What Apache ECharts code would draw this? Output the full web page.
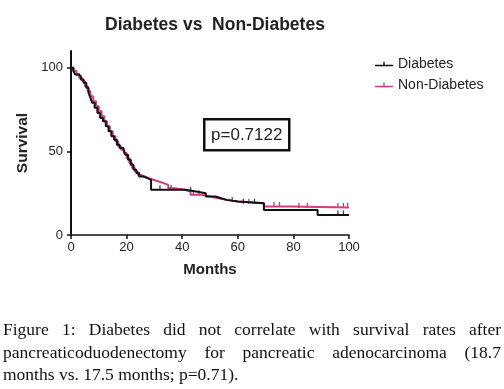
<!DOCTYPE html>
<html>
<head>
<meta charset="utf-8">
<script src="https://cdn.jsdelivr.net/npm/echarts@6/dist/echarts.min.js"></script>
<style>
    html, body { margin: 0; padding: 0; background: #fff; }
    #chart { width: 504px; height: 389px; }
    #caption {
        position: absolute; left: 3px; top: 318px; width: 498px;
        font-family: 'Liberation Serif', serif; font-size: 17.5px; line-height: 22.5px; color: #111;
    }
    #caption div { text-align: justify; text-align-last: justify; white-space: nowrap; }
    #caption div.last { text-align-last: left; }
</style>
</head>
<body>
<div id="chart"></div>
<div id="caption">
    <div>Figure 1: Diabetes did not correlate with survival rates after</div>
    <div>pancreaticoduodenectomy for pancreatic adenocarcinoma (18.7</div>
    <div class="last">months vs. 17.5 months; p=0.71).</div>
</div>
<script>
// Kaplan-Meier steps
var diabetesMonths = [0, 0.8, 1.5, 2.5, 3.5, 4.5, 5.5, 6.3, 7, 7.6, 8.5, 9.5, 10.5, 11.5, 12.5, 13.5, 14.5, 15.5, 16.5, 17.5, 18.8, 19.5, 20.5, 21.5, 22.5, 23.5, 24.5, 26, 27.5, 28.8, 41, 45, 48.5, 52, 54, 56, 60, 69.4, 88.7, 100];
var diabetesSurvival = [100, 98, 96, 95, 93, 91, 88, 85, 82, 79, 76, 73, 70, 68, 65, 62, 59, 57, 54, 52, 51, 48, 45, 42, 39, 37, 35, 34, 33, 27, 26, 25, 23, 22, 21, 20, 19, 15, 12, 12];

var nonDiabetesMonths = [0, 1, 2, 3, 4, 5, 6, 7, 8, 9, 10, 11, 12, 13, 14, 15, 16, 17, 18, 19, 20, 21, 22, 23, 24, 25, 26.5, 28, 29.7, 31.5, 33.3, 35, 37, 41, 43, 47, 50, 53, 56, 60, 69.4, 79, 100];
var nonDiabetesSurvival = [100, 98, 96, 94, 92, 89, 86, 83, 80, 77, 74, 71, 68, 65, 62, 59, 56, 53, 51, 49, 46, 43, 40, 38, 36, 35, 34, 33, 32, 31, 30, 28, 27, 26, 24, 23, 22, 21, 20, 19, 17, 16.5, 16.5];

// censored patients (tick marks)
var diabetesCensorMonths = [3, 32, 36, 43, 62, 66, 96, 98];
var diabetesCensorSurvival = [94, 27, 27, 26, 19, 19, 12, 12];
var nonDiabetesCensorMonths = [44, 46, 58, 64, 73, 75, 82, 85, 96, 98, 99.5];
var nonDiabetesCensorSurvival = [24, 24, 20, 19, 17, 17, 16.5, 16.5, 16.5, 16.5, 16.5];

var xTicks = [0, 20, 40, 60, 80, 100];
var yTicks = [0, 50, 100];

function zip(a, b) {
    return a.map(function (v, i) { return [v, b[i]]; });
}

var black = '#111111';
var pink = '#cf3f7d';
var font = 'Liberation Sans, Arial, sans-serif';

var chart = echarts.init(document.getElementById('chart'));
var option = {
    animation: false,
    title: {
        text: 'Diabetes vs  Non-Diabetes',
        left: 210,
        textAlign: 'center',
        top: 11,
        textStyle: { fontFamily: font, fontSize: 17.5, fontWeight: 'bold', color: '#222' }
    },
    legend: {
        orient: 'vertical',
        left: 370,
        top: 52,
        itemWidth: 18,
        itemHeight: 8,
        itemGap: 7,
        textStyle: { fontFamily: font, fontSize: 14, color: '#222' },
        data: [
            { name: 'Diabetes', icon: 'path://M0,5h18v1.4h-18z M8.3,2h1.4v3h-1.4z', itemStyle: { color: black } },
            { name: 'Non-Diabetes', icon: 'path://M0,5h18v1.4h-18z M8.3,2h1.4v3h-1.4z', itemStyle: { color: pink } }
        ]
    },
    grid: { left: 71, right: 155, top: 51, bottom: 154 },
    xAxis: {
        type: 'value',
        min: 0,
        max: 100,
        interval: 20,
        name: 'Months',
        nameLocation: 'middle',
        nameGap: 27,
        nameTextStyle: { fontFamily: font, fontSize: 15, fontWeight: 'bold', color: '#222' },
        axisLine: { lineStyle: { color: black, width: 1.5 } },
        axisTick: { length: 4, lineStyle: { color: black, width: 1.5 }, customValues: xTicks },
        axisLabel: { fontFamily: font, fontSize: 13, color: '#222', margin: 6, customValues: xTicks },
        splitLine: { show: false }
    },
    yAxis: {
        type: 'value',
        min: 0,
        max: 110,
        name: 'Survival',
        nameLocation: 'middle',
        nameGap: 35,
        nameRotate: 90,
        nameTextStyle: { fontFamily: font, fontSize: 15.5, fontWeight: 'bold', color: '#222' },
        axisLine: { show: true, lineStyle: { color: black, width: 2 } },
        axisTick: { show: true, length: 4, lineStyle: { color: black, width: 1.5 }, customValues: yTicks },
        axisLabel: { fontFamily: font, fontSize: 13, color: '#222', margin: 8, customValues: yTicks },
        splitLine: { show: false }
    },
    graphic: [{
        type: 'group',
        left: 203,
        top: 118,
        children: [
            { type: 'rect', shape: { x: 0, y: 0, width: 85, height: 31 }, style: { fill: '#fff', stroke: black, lineWidth: 2.5 } },
            { type: 'text', x: 42.5, y: 16, style: { text: 'p=0.7122', fontFamily: font, fontSize: 17, fill: '#222', align: 'center', verticalAlign: 'middle' } }
        ]
    }],
    series: [
        {
            name: 'Non-Diabetes',
            type: 'line',
            step: 'end',
            showSymbol: false,
            lineStyle: { color: pink, width: 2 },
            itemStyle: { color: pink },
            data: zip(nonDiabetesMonths, nonDiabetesSurvival)
        },
        {
            name: 'Non-Diabetes',
            type: 'scatter',
            symbol: 'rect',
            symbolSize: [1.3, 5],
            symbolOffset: [0, -2],
            itemStyle: { color: '#7a2448' },
            data: zip(nonDiabetesCensorMonths, nonDiabetesCensorSurvival)
        },
        {
            name: 'Diabetes',
            type: 'line',
            step: 'end',
            showSymbol: false,
            lineStyle: { color: black, width: 2 },
            itemStyle: { color: black },
            data: zip(diabetesMonths, diabetesSurvival)
        },
        {
            name: 'Diabetes',
            type: 'scatter',
            symbol: 'rect',
            symbolSize: [1.3, 5],
            symbolOffset: [0, -2],
            itemStyle: { color: black },
            data: zip(diabetesCensorMonths, diabetesCensorSurvival)
        }
    ]
};
chart.setOption(option);
window.addEventListener('resize', function () { chart.resize(); });
</script>
</body>
</html>
